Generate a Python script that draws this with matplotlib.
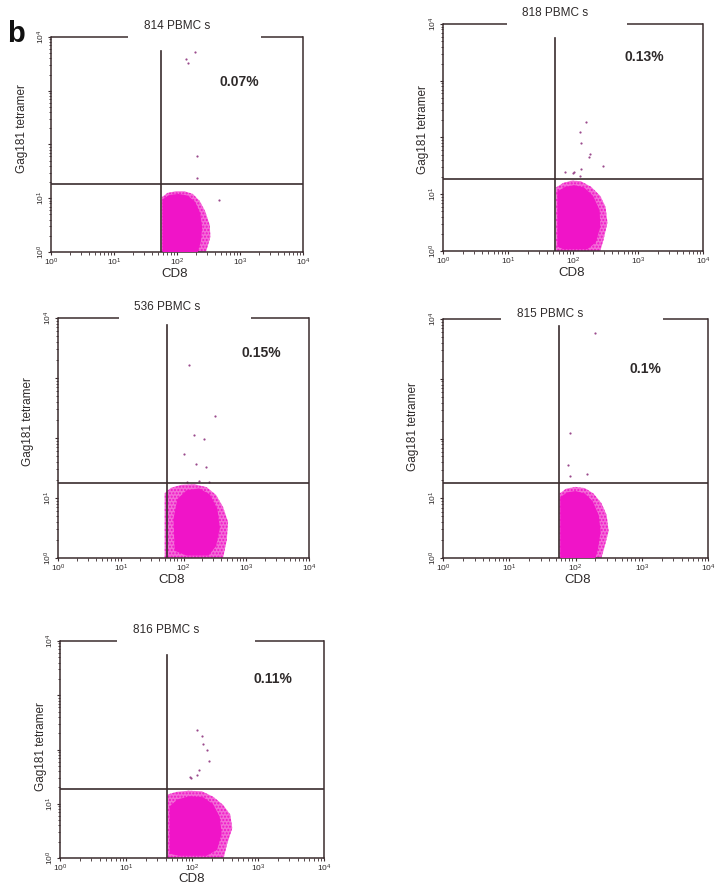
import matplotlib
matplotlib.use("Agg")
import matplotlib.pyplot as plt
from matplotlib.patches import Polygon
import numpy as np

plt.rcParams['font.family'] = ['Liberation Sans', 'DejaVu Sans']
plt.rcParams['mathtext.fontset'] = 'custom'
plt.rcParams['mathtext.rm'] = 'Liberation Sans'
plt.rcParams['mathtext.it'] = 'Liberation Sans'
plt.rcParams['hatch.linewidth'] = 1.0

# ---------------- data (log10 decades) ----------------
panel_titles = ['814 PBMC s', '818 PBMC s', '536 PBMC s', '815 PBMC s', '816 PBMC s']
percent_labels = ['0.07%', '0.13%', '0.15%', '0.1%', '0.11%']
x_label = 'CD8'
y_label = 'Gag181 tetramer'
tick_decades = [0, 1, 2, 3, 4]
x_tick_labels = ['$10^0$', '$10^1$', '$10^2$', '$10^3$', '$10^4$']
y_tick_labels = ['$10^0$', '$10^1$', '', '', '$10^4$']

gate_cd8 = [1.746, 1.73, 1.73, 1.75, 1.62]
gate_tet = [1.265, 1.27, 1.255, 1.26, 1.27]
gate_top = [3.74, 3.75, 3.88, 3.88, 3.74]

cloud_outer_814 = [(1.76, 0.0), (1.76, 1.02), (1.85, 1.10), (1.98, 1.13), (2.12, 1.13), (2.25, 1.08),
                   (2.36, 0.95), (2.45, 0.75), (2.52, 0.50), (2.53, 0.28), (2.48, 0.08), (2.46, 0.0)]
cloud_core_814 = [(1.77, 0.0), (1.77, 0.98), (1.88, 1.06), (2.02, 1.08), (2.17, 1.05), (2.29, 0.93),
                  (2.37, 0.72), (2.40, 0.45), (2.38, 0.20), (2.33, 0.0)]
cloud_outer_818 = [(1.74, 0.0), (1.74, 1.12), (1.85, 1.20), (1.98, 1.24), (2.12, 1.23), (2.28, 1.13),
                   (2.42, 0.97), (2.50, 0.78), (2.53, 0.50), (2.47, 0.20), (2.42, 0.0)]
cloud_core_818 = [(1.76, 0.08), (1.76, 1.05), (1.88, 1.13), (2.02, 1.16), (2.17, 1.12), (2.31, 0.97),
                  (2.41, 0.72), (2.42, 0.42), (2.35, 0.15), (2.22, 0.03), (1.85, 0.03)]
cloud_outer_536 = [(1.70, 0.0), (1.70, 1.08), (1.80, 1.17), (1.97, 1.22), (2.17, 1.23), (2.37, 1.18),
                   (2.52, 1.05), (2.63, 0.85), (2.71, 0.60), (2.69, 0.30), (2.63, 0.0)]
cloud_core_536 = [(1.86, 0.12), (1.84, 0.65), (1.90, 0.98), (2.05, 1.13), (2.25, 1.16), (2.42, 1.06),
                  (2.54, 0.82), (2.58, 0.50), (2.52, 0.20), (2.40, 0.04), (2.05, 0.04)]
cloud_outer_815 = [(1.76, 0.0), (1.76, 1.08), (1.86, 1.16), (2.00, 1.19), (2.14, 1.17), (2.27, 1.08),
                   (2.39, 0.92), (2.47, 0.72), (2.50, 0.45), (2.43, 0.15), (2.39, 0.0)]
cloud_core_815 = [(1.77, 0.0), (1.77, 1.02), (1.88, 1.10), (2.00, 1.12), (2.14, 1.08), (2.26, 0.95),
                  (2.35, 0.72), (2.38, 0.45), (2.34, 0.15), (2.30, 0.0)]
cloud_outer_816 = [(1.63, 0.0), (1.63, 1.17), (1.77, 1.22), (1.95, 1.24), (2.15, 1.23), (2.32, 1.13),
                   (2.47, 0.98), (2.58, 0.80), (2.61, 0.55), (2.53, 0.25), (2.48, 0.0)]
cloud_core_816 = [(1.66, 0.08), (1.66, 0.95), (1.78, 1.08), (1.97, 1.14), (2.17, 1.12), (2.32, 0.99),
                  (2.42, 0.76), (2.45, 0.45), (2.38, 0.15), (2.22, 0.04), (1.80, 0.04)]

events_814 = [(2.29, 3.72), (2.15, 3.59), (2.18, 3.51), (2.31, 1.79), (2.31, 1.37), (2.66, 0.97)]
events_818 = [(2.195, 2.28), (2.11, 2.10), (2.13, 1.91), (2.26, 1.71), (2.24, 1.66), (2.46, 1.50),
              (2.02, 1.39), (2.12, 1.44), (1.88, 1.40), (2.00, 1.38), (2.11, 1.32)]
events_536 = [(2.09, 3.22), (2.50, 2.36), (2.16, 2.05), (2.32, 1.99), (2.01, 1.74), (2.20, 1.57),
              (2.36, 1.51), (2.05, 1.27), (2.25, 1.29), (2.41, 1.27)]
events_815 = [(2.30, 3.77), (1.92, 2.09), (1.88, 1.56), (1.92, 1.38), (2.18, 1.40)]
events_816 = [(2.07, 2.36), (2.15, 2.25), (2.17, 2.11), (2.23, 2.00), (2.26, 1.78), (2.11, 1.62),
              (2.07, 1.53), (1.98, 1.48), (1.97, 1.50)]

clouds_outer = [cloud_outer_814, cloud_outer_818, cloud_outer_536, cloud_outer_815, cloud_outer_816]
clouds_core = [cloud_core_814, cloud_core_818, cloud_core_536, cloud_core_815, cloud_core_816]
events = [events_814, events_818, events_536, events_815, events_816]

# ---------------- layout (pixels) ----------------
W, H = 722, 888
# left, right, top, bottom, top-spine gap start, gap end
panel_px = [(51, 303, 37, 252, 128, 261),
            (443, 703, 24, 251, 507, 627),
            (58, 309, 318, 558, 119, 251),
            (443, 708, 319, 558, 501, 663),
            (60, 324, 641, 858, 117, 255)]
title_px = [(177, 26), (555, 13), (167, 307), (550, 314), (166, 630)]
ylab_px = [(22, 129), (423, 130), (28, 422), (413, 427), (41, 747)]
xlab_px = [(175, 274), (572, 273), (172, 580), (578, 580), (192, 879)]
pct_px = [(239, 82), (644, 57), (261, 353), (645, 369), (273, 679)]

MAG = '#f014c8'
FRINGE = '#f46cd8'
LINE = '#3a2c2e'
TXT = '#2e2a2a'

fig = plt.figure(figsize=(W / 100, H / 100), dpi=100)


def fx(x):
    return x / W


def fy(y):
    return 1 - y / H


for i in range(5):
    L, R, T, B, g0, g1 = panel_px[i]
    ax = fig.add_axes([fx(L), fy(B), (R - L) / W, (B - T) / H])
    ax.set_xscale('log')
    ax.set_yscale('log')
    ax.set_xlim(1, 1e4)
    ax.set_ylim(1, 1e4)
    ax.set_xticks([10.0 ** d for d in tick_decades])
    ax.set_yticks([10.0 ** d for d in tick_decades])
    ax.set_xticklabels(x_tick_labels)
    ax.set_yticklabels(y_tick_labels, rotation=90, va='center')
    ax.tick_params(which='major', direction='out', length=2.5, width=0.8, color=LINE,
                   labelsize=6, labelcolor=TXT, pad=0.6)
    ax.tick_params(which='minor', direction='out', length=1.8, width=0.6, color=LINE)
    for s in ['left', 'right', 'bottom']:
        ax.spines[s].set_color(LINE)
        ax.spines[s].set_linewidth(1.1)
    ax.spines['top'].set_visible(False)
    gl = (g0 - L) / (R - L)
    gr = (g1 - L) / (R - L)
    ax.plot([0, gl], [1, 1], transform=ax.transAxes, color=LINE, lw=1.1, clip_on=False,
            solid_capstyle='butt')
    ax.plot([gr, 1], [1, 1], transform=ax.transAxes, color=LINE, lw=1.1, clip_on=False,
            solid_capstyle='butt')

    outer = np.array(clouds_outer[i])
    core = np.array(clouds_core[i])
    ax.add_patch(Polygon(10.0 ** outer, closed=True, facecolor=FRINGE, edgecolor=MAG,
                         linewidth=0, hatch='.....', zorder=2))
    ax.add_patch(Polygon(10.0 ** core, closed=True, facecolor=MAG, edgecolor=MAG,
                         linewidth=0, zorder=3))
    ev = np.array(events[i])
    ax.scatter(10.0 ** ev[:, 0], 10.0 ** ev[:, 1], s=2.5, color='#9a4a8c', linewidths=0, zorder=4)

    ax.plot([10 ** gate_cd8[i]] * 2, [1, 10 ** gate_top[i]], color=LINE, lw=1.2, zorder=5)
    ax.plot([1, 1e4], [10 ** gate_tet[i]] * 2, color=LINE, lw=1.2, zorder=5)

    fig.text(fx(title_px[i][0]), fy(title_px[i][1]), panel_titles[i], ha='center', va='center',
             fontsize=8.5, color=TXT)
    fig.text(fx(ylab_px[i][0]), fy(ylab_px[i][1]), y_label, ha='center', va='center',
             rotation=90, fontsize=8.5, color=TXT)
    fig.text(fx(xlab_px[i][0]), fy(xlab_px[i][1]), x_label, ha='center', va='center',
             fontsize=9.5, color=TXT)
    fig.text(fx(pct_px[i][0]), fy(pct_px[i][1]), percent_labels[i], ha='center', va='center',
             fontsize=10, fontweight='bold', color=TXT)

fig.text(fx(7), fy(34), 'b', ha='left', va='center', fontsize=21, fontweight='bold', color='#111111')

fig.savefig('out.png', dpi=100, facecolor='white')
